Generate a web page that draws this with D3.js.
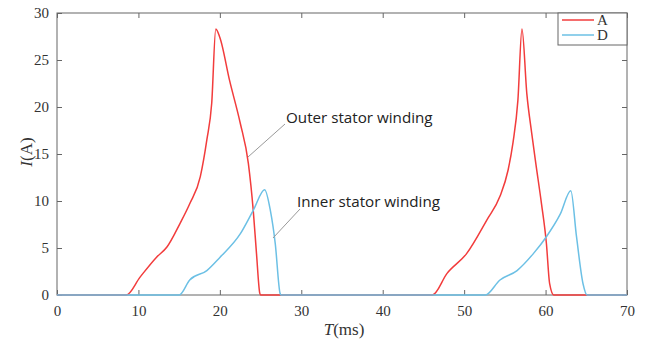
<!DOCTYPE html>
<html><head><meta charset="utf-8">
<script src="https://cdn.jsdelivr.net/npm/d3@7"></script>
<style>body{margin:0;background:#fff}svg{display:block}</style>
</head><body><svg id="c" width="646" height="340"></svg>
<script>
const xTicks = [0,10,20,30,40,50,60,70];
const yTicks = [0,5,10,15,20,25,30];
const seriesNames = ["A","D"];
const seriesColors = ["#f23c3c","#6cc0e5"];
// Series A (outer stator winding): [T(ms), I(A)]
const seriesA = [[0,0],[8.5,0],[10.2,1.9],[12.2,4.0],[13.5,5.1],[15.1,7.6],[16.3,9.7],[17.6,12.6],[18.4,16.5],[19.0,20.4],[19.5,28.3],[20.0,27.4],[21.2,22.8],[22.5,18.3],[23.5,14.0],[24.1,9.0],[24.5,4.4],[24.9,0.2],[25.0,0],
  [46.1,0],[47.9,2.3],[50.3,4.4],[52.8,8.0],[54.4,10.5],[55.4,13.3],[56.0,16.2],[56.6,20.7],[57.1,28.3],[57.7,21.4],[58.3,17.2],[58.8,14.0],[59.5,9.7],[60.1,5.5],[60.5,1.2],[61.0,0],[70,0]];
// Series D (inner stator winding)
const seriesD = [[0,0],[15.0,0],[16.3,1.6],[18.4,2.6],[20.0,4.0],[22.5,6.5],[24.1,9.0],[25.5,11.2],[26.2,9.0],[26.8,5.5],[27.4,0.15],[27.5,0],
  [52.6,0],[54.4,1.6],[56.5,2.6],[58.5,4.4],[60.1,6.2],[61.8,8.6],[63.1,11.1],[63.8,6.2],[64.6,1.2],[65.1,0],[70,0]];

const svg = d3.select("#c");
const L=57,R=627,T=13,B=295;
const x = d3.scaleLinear().domain([0,70]).range([L,R]);
const y = d3.scaleLinear().domain([0,30]).range([B,T]);
const axisColor = "#666";
const tickFont = "'Liberation Serif','Times New Roman',serif";

function styleAxis(g){
  g.select(".domain").remove();
  g.selectAll("line").attr("stroke",axisColor);
  g.selectAll("text").attr("fill","#333").style("font-family",tickFont).style("font-size","15px");
}
svg.append("g").attr("transform",`translate(0,${B})`).call(d3.axisBottom(x).tickValues(xTicks).tickSize(-5).tickPadding(10)).call(styleAxis);
svg.append("g").attr("transform",`translate(0,${T})`).call(d3.axisTop(x).tickValues(xTicks).tickSize(-5).tickFormat("")).call(styleAxis);
svg.append("g").attr("transform",`translate(${L},0)`).call(d3.axisLeft(y).tickValues(yTicks).tickSize(-5).tickPadding(8)).call(styleAxis);
svg.append("g").attr("transform",`translate(${R},0)`).call(d3.axisRight(y).tickValues(yTicks).tickSize(-5).tickFormat("")).call(styleAxis);
svg.append("rect").attr("x",L).attr("y",T).attr("width",R-L).attr("height",B-T).attr("fill","none").attr("stroke",axisColor).attr("stroke-width",1);

const line = d3.line().x(d=>x(d[0])).y(d=>y(d[1])).curve(d3.curveMonotoneX);
svg.append("path").datum(seriesA).attr("d",line).attr("fill","none").attr("stroke",seriesColors[0]).attr("stroke-width",1.5);
svg.append("path").datum(seriesD).attr("d",line).attr("fill","none").attr("stroke",seriesColors[1]).attr("stroke-width",1.5);

// annotations
const annFont = "'Open Sans','Noto Sans',sans-serif";
svg.append("line").attr("x1",248).attr("y1",157).attr("x2",285).attr("y2",124).attr("stroke","#999").attr("stroke-width",1);
svg.append("text").attr("x",286).attr("y",123).text("Outer stator winding").attr("fill","#222").style("font-family",annFont).style("font-size","15.2px");
svg.append("line").attr("x1",273).attr("y1",238).attr("x2",300).attr("y2",209).attr("stroke","#999").attr("stroke-width",1);
svg.append("text").attr("x",297).attr("y",207).text("Inner stator winding").attr("fill","#222").style("font-family",annFont).style("font-size","15.2px");

// axis labels
const yl = svg.append("text").attr("transform","translate(32,152) rotate(-90)").attr("text-anchor","middle").attr("fill","#333").style("font-family",tickFont).style("font-size","17px");
yl.append("tspan").attr("font-style","italic").text("I");
yl.append("tspan").text("(A)");
const xl = svg.append("text").attr("x",344).attr("y",335).attr("text-anchor","middle").attr("fill","#333").style("font-family",tickFont).style("font-size","17px");
xl.append("tspan").attr("font-style","italic").text("T");
xl.append("tspan").text("(ms)");

// legend
svg.append("rect").attr("x",558).attr("y",13).attr("width",69).attr("height",32).attr("fill","#fff").attr("stroke",axisColor);
seriesNames.forEach((n,i)=>{
  const yy = 20 + i*15;
  svg.append("line").attr("x1",562).attr("x2",594).attr("y1",yy).attr("y2",yy).attr("stroke",seriesColors[i]).attr("stroke-width",1.5);
  svg.append("text").attr("x",597).attr("y",yy+5).text(n).attr("fill","#333").style("font-family",tickFont).style("font-size","15px");
});
</script></body></html>
